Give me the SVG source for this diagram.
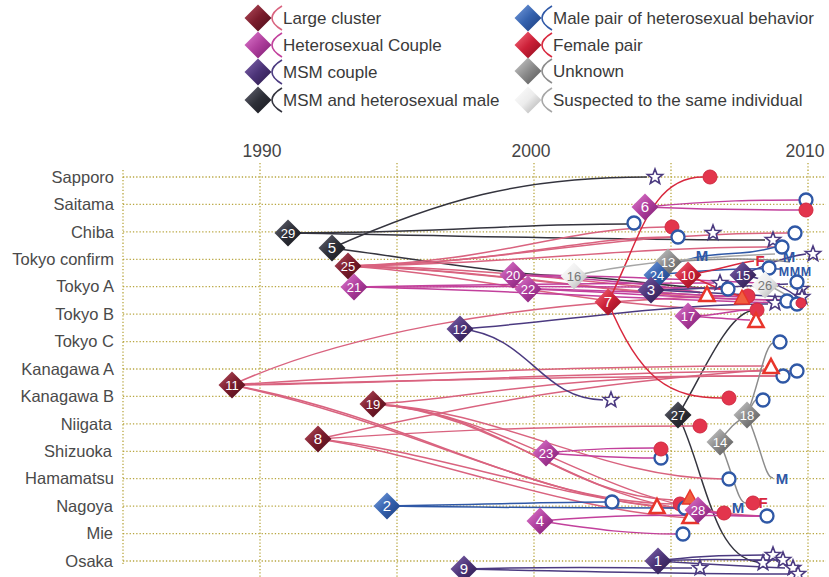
<svg xmlns="http://www.w3.org/2000/svg" xmlns:xlink="http://www.w3.org/1999/xlink" width="829" height="577" viewBox="0 0 829 577">
<style>
text{font-family:"Liberation Sans",Arial,sans-serif}
.grid{stroke:#b8a640;stroke-width:1.3;stroke-dasharray:1.3 2;fill:none}
.row{font-size:16.5px;fill:#4a4a4a;text-anchor:end}
.yr{font-size:17.5px;fill:#444;text-anchor:middle}
.leg{font-size:17px;fill:#3a3a3a}
.num{font-size:13px;fill:#fff;text-anchor:middle}
.numg{font-size:13px;fill:#777;text-anchor:middle}
.c path{fill:none;stroke-width:1.5}
.lc{stroke:#d9637f}
.hc{stroke:#c2409c}
.ms{stroke:#4b3a80}
.dk{stroke:#34343e}
.mp{stroke:#2f58a6}
.fp{stroke:#d8283e}
.uk{stroke:#8c8c8c}
.su{stroke:#a6a6a6}
.fLC{fill:url(#gLC)}.fHC{fill:url(#gHC)}.fMS{fill:url(#gMS)}.fDK{fill:url(#gDK)}
.fMP{fill:url(#gMP)}.fFP{fill:url(#gFP)}.fUK{fill:url(#gUK)}.fSU{fill:url(#gSU)}
.star{fill:#fff;stroke:#4b3a80;stroke-width:1.6}
.oc{fill:#fff;stroke:#2f58a6;stroke-width:2.3}
.rd{fill:#e3354c;stroke:#d02840;stroke-width:1}
.tri{fill:#fff;stroke:#e8352a;stroke-width:2.6;stroke-linejoin:miter}
.trif{fill:#f06040;stroke:#e8352a;stroke-width:1.5}
.M{font-size:15px;font-weight:bold;fill:#2f58a6;text-anchor:middle}
.Ms{font-size:12.5px;font-weight:bold;fill:#2f58a6;text-anchor:middle}
.F{font-size:15px;font-weight:bold;fill:#d8283e;text-anchor:middle}
</style>
<defs>
<linearGradient id="gLC" x1="0" y1="0" x2="1" y2="1"><stop offset="0" stop-color="#b85060"/><stop offset="0.5" stop-color="#7a1c2c"/><stop offset="1" stop-color="#4a0c18"/></linearGradient>
<linearGradient id="gHC" x1="0" y1="0" x2="1" y2="1"><stop offset="0" stop-color="#e07ed0"/><stop offset="0.5" stop-color="#b0409e"/><stop offset="1" stop-color="#7a1a70"/></linearGradient>
<linearGradient id="gMS" x1="0" y1="0" x2="1" y2="1"><stop offset="0" stop-color="#8468b0"/><stop offset="0.5" stop-color="#4c3478"/><stop offset="1" stop-color="#281846"/></linearGradient>
<linearGradient id="gDK" x1="0" y1="0" x2="1" y2="1"><stop offset="0" stop-color="#6a6a78"/><stop offset="0.5" stop-color="#2e3038"/><stop offset="1" stop-color="#15151c"/></linearGradient>
<linearGradient id="gMP" x1="0" y1="0" x2="1" y2="1"><stop offset="0" stop-color="#7aa0e0"/><stop offset="0.5" stop-color="#3562ae"/><stop offset="1" stop-color="#1a3a7a"/></linearGradient>
<linearGradient id="gFP" x1="0" y1="0" x2="1" y2="1"><stop offset="0" stop-color="#f87080"/><stop offset="0.5" stop-color="#cc2038"/><stop offset="1" stop-color="#8a0c1c"/></linearGradient>
<linearGradient id="gUK" x1="0" y1="0" x2="1" y2="1"><stop offset="0" stop-color="#d0d0d0"/><stop offset="0.5" stop-color="#8c8c8c"/><stop offset="1" stop-color="#505050"/></linearGradient>
<linearGradient id="gSU" x1="0" y1="0" x2="1" y2="1"><stop offset="0" stop-color="#ffffff"/><stop offset="0.5" stop-color="#ececec"/><stop offset="1" stop-color="#a8a8a8"/></linearGradient>
<path id="dia" d="M0,-13.5 L13.5,0 L0,13.5 L-13.5,0 Z"/>
<path id="star" d="M0,-8 L2,-2.75 L7.61,-2.47 L3.23,1.05 L4.7,6.47 L0,3.4 L-4.7,6.47 L-3.23,1.05 L-7.61,-2.47 L-2,-2.75 Z"/>
<path id="tri" d="M0,-8 L7.5,6 L-7.5,6 Z"/>
</defs>
<rect width="829" height="577" fill="#fff"/>

<g id="legend">
<g id="leg-lc"><path d="M282,6 Q262,18 282,30" class="lc" fill="none" stroke-width="1.6"/><use href="#dia" x="258" y="18" class="fLC"/><text class="leg" x="283" y="24">Large cluster</text></g>
<g id="leg-hc"><path d="M282,33 Q262,45 282,57" class="hc" fill="none" stroke-width="1.6"/><use href="#dia" x="258" y="45" class="fHC"/><text class="leg" x="283" y="51">Heterosexual Couple</text></g>
<g id="leg-ms"><path d="M282,60 Q262,72 282,84" class="ms" fill="none" stroke-width="1.6"/><use href="#dia" x="258" y="72" class="fMS"/><text class="leg" x="283" y="78">MSM couple</text></g>
<g id="leg-dk"><path d="M282,88 Q262,100 282,112" class="dk" fill="none" stroke-width="1.6"/><use href="#dia" x="258" y="100" class="fDK"/><text class="leg" x="283" y="106">MSM and heterosexual male</text></g>
<g id="leg-mp"><path d="M552,6 Q532,18 552,30" class="mp" fill="none" stroke-width="1.6"/><use href="#dia" x="528" y="18" class="fMP"/><text class="leg" x="553" y="24">Male pair of heterosexual behavior</text></g>
<g id="leg-fp"><path d="M552,33 Q532,45 552,57" class="fp" fill="none" stroke-width="1.6"/><use href="#dia" x="528" y="45" class="fFP"/><text class="leg" x="553" y="51">Female pair</text></g>
<g id="leg-uk"><path d="M552,59 Q532,71 552,83" class="uk" fill="none" stroke-width="1.6"/><use href="#dia" x="528" y="71" class="fUK"/><text class="leg" x="553" y="77">Unknown</text></g>
<g id="leg-su"><path d="M552,88 Q532,100 552,112" class="su" fill="none" stroke-width="1.6"/><use href="#dia" x="528" y="100" class="fSU"/><text class="leg" x="553" y="106">Suspected to the same individual</text></g>
</g>

<g id="axes">
<text class="yr" x="262" y="157">1990</text>
<text class="yr" x="531" y="157">2000</text>
<text class="yr" x="805" y="157">2010</text>
<path class="grid" d="M123,170 V566 M260,163 V577 M397,163 V577 M534,163 V577 M671,163 V577 M808,163 V577"/>
<path class="grid" d="M123,177 H826 M123,204.4 H826 M123,231.9 H826 M123,259.3 H826 M123,286.7 H826 M123,314.1 H826 M123,341.6 H826 M123,369 H826 M123,396.4 H826 M123,423.9 H826 M123,451.3 H826 M123,478.7 H826 M123,506.2 H826 M123,533.6 H826 M123,561 H826"/>
<text class="row" x="114" y="182.5">Sapporo</text>
<text class="row" x="114" y="210">Saitama</text>
<text class="row" x="114" y="237.5">Chiba</text>
<text class="row" x="114" y="265">Tokyo confirm</text>
<text class="row" x="114" y="292.3">Tokyo A</text>
<text class="row" x="114" y="319.7">Tokyo B</text>
<text class="row" x="114" y="347.2">Tokyo C</text>
<text class="row" x="114" y="374.6">Kanagawa A</text>
<text class="row" x="114" y="402">Kanagawa B</text>
<text class="row" x="112" y="429.5">Niigata</text>
<text class="row" x="112" y="456.9">Shizuoka</text>
<text class="row" x="114" y="484.3">Hamamatsu</text>
<text class="row" x="113" y="511.8">Nagoya</text>
<text class="row" x="113" y="539.2">Mie</text>
<text class="row" x="113" y="566.6">Osaka</text>
</g>

<g id="connectors" class="c">
<path class="dk" d="M288,233 C450,233 500,224 627,224"/>
<path class="dk" d="M288,233 C480,236 600,240 765,240"/>
<path class="dk" d="M332,248 C440,200 520,177 647,177"/>
<path class="dk" d="M332,248 C450,264 520,276 574,276 C630,280 680,288 722,289"/>
<path class="dk" d="M678,415 C700,380 725,318 750,311"/>
<path class="dk" d="M678,415 C705,470 712,556 757,562"/>

<path class="lc" d="M348,266 C500,262 560,228 665,227"/>
<path class="lc" d="M348,266 C500,264 580,237 671,237"/>
<path class="lc" d="M348,266 C520,262 600,233 789,233"/>
<path class="lc" d="M348,266 C520,264 620,247 775,247"/>
<path class="lc" d="M348,266 C500,268 600,284 700,292"/>
<path class="lc" d="M348,266 C500,270 620,296 741,296"/>
<path class="lc" d="M348,266 C520,272 640,300 780,300"/>
<path class="lc" d="M348,266 C480,275 600,310 750,310"/>
<path class="lc" d="M232,385 C330,340 500,300 745,296"/>
<path class="lc" d="M232,385 C420,372 600,366 764,366"/>
<path class="lc" d="M232,385 C420,380 620,376 776,376"/>
<path class="lc" d="M232,385 C420,383 620,371 790,371"/>
<path class="lc" d="M232,385 C420,420 520,500 672,504"/>
<path class="lc" d="M232,385 C420,425 540,505 700,510"/>
<path class="lc" d="M373,404 C470,400 540,374 776,376"/>
<path class="lc" d="M373,404 C500,410 560,495 673,500"/>
<path class="lc" d="M373,404 C500,412 580,505 712,512"/>
<path class="lc" d="M373,404 C520,414 600,510 760,516"/>
<path class="lc" d="M373,404 C500,410 600,478 722,479"/>
<path class="lc" d="M318,439 C450,430 550,426 693,426"/>
<path class="lc" d="M318,439 C450,410 560,385 764,370"/>
<path class="lc" d="M318,439 C430,450 560,500 680,508"/>
<path class="lc" d="M318,439 C430,455 560,510 690,518"/>

<path class="hc" d="M354,287 C500,287 600,285 720,289"/>
<path class="hc" d="M354,287 C520,290 640,300 790,303"/>
<path class="hc" d="M354,287 C520,284 650,283 714,283"/>
<path class="hc" d="M513,275 C600,275 700,280 780,284"/>
<path class="hc" d="M513,275 C600,278 680,288 700,293"/>
<path class="hc" d="M528,289 C620,292 700,300 790,300"/>
<path class="hc" d="M528,289 C620,290 720,296 742,297"/>
<path class="hc" d="M645,207 C720,200 760,200 799,200"/>
<path class="hc" d="M645,207 C720,210 760,210 799,210"/>
<path class="hc" d="M688,316 C720,316 730,310 750,310"/>
<path class="hc" d="M688,316 C720,318 740,320 750,320"/>
<path class="hc" d="M546,453 C600,448 620,448 654,448"/>
<path class="hc" d="M546,453 C600,457 620,458 654,458"/>
<path class="hc" d="M540,521 C600,530 630,534 676,534"/>
<path class="hc" d="M540,521 C640,512 700,516 760,516"/>
<path class="hc" d="M698,510 L717,513"/>
<path class="hc" d="M698,510 C730,516 740,516 760,516"/>

<path class="ms" d="M460,329 C560,322 650,305 768,304"/>
<path class="ms" d="M460,329 C530,335 540,399 603,400"/>
<path class="ms" d="M651,290 C700,292 760,296 792,297"/>
<path class="ms" d="M651,290 C700,290 750,285 788,284"/>
<path class="ms" d="M743,275 C770,262 790,256 806,254"/>
<path class="ms" d="M743,275 C770,280 790,290 798,298"/>
<path class="ms" d="M464,569 C560,566 620,568 692,568"/>
<path class="ms" d="M464,569 C600,572 700,574 790,574"/>
<path class="ms" d="M658,561 C700,555 740,555 765,555"/>
<path class="ms" d="M658,561 C700,558 740,560 775,560"/>
<path class="ms" d="M658,561 C700,564 740,566 785,568"/>

<path class="mp" d="M387,506 C500,504 560,502 605,502"/>
<path class="mp" d="M387,506 C520,508 600,508 678,508"/>
<path class="mp" d="M657,275 C680,258 700,255 740,253 C760,252 770,248 776,247"/>
<path class="mp" d="M657,275 C700,270 750,268 780,269"/>

<path class="fp" d="M608,302 C640,240 650,177 703,177"/>
<path class="fp" d="M608,302 C640,380 670,398 722,398"/>
<path class="fp" d="M688,275 C720,270 740,262 754,261"/>
<path class="fp" d="M688,275 C710,285 730,294 741,296"/>

<path class="uk" d="M747,415 C760,380 765,345 773,343"/>
<path class="uk" d="M747,415 C762,450 765,478 773,478"/>
<path class="uk" d="M747,415 C752,405 754,400 756,400"/>
<path class="uk" d="M720,442 C730,425 740,420 747,415"/>
<path class="uk" d="M720,442 C735,480 738,503 746,503"/>
<path class="uk" d="M668,262 C720,258 760,258 790,262"/>
<path class="su" d="M574,276 C620,265 680,258 775,254"/>
<path class="su" d="M767,285 C780,290 785,295 790,297"/>
</g>

<g id="endpoints">
<use href="#star" class="star" x="655" y="177"/>
<use href="#star" class="star" x="713" y="233"/>
<use href="#star" class="star" x="773" y="240"/>
<use href="#star" class="star" x="813" y="254"/>
<use href="#star" class="star" x="720" y="283"/>
<use href="#star" class="star" x="801" y="289"/>
<use href="#star" class="star" x="775" y="303"/>
<use href="#star" class="star" x="802" y="297"/>
<use href="#star" class="star" x="611" y="400"/>
<use href="#star" class="star" x="700" y="568"/>
<use href="#star" class="star" x="763" y="563"/>
<use href="#star" class="star" x="773" y="555"/>
<use href="#star" class="star" x="783" y="560"/>
<use href="#star" class="star" x="793" y="568"/>
<use href="#star" class="star" x="798" y="574"/>

<circle class="oc" cx="806" cy="200" r="6.5"/>
<circle class="rd" cx="806" cy="210" r="7"/>
<circle class="rd" cx="710" cy="177" r="7"/>
<circle class="oc" cx="634" cy="223" r="6.5"/>
<circle class="rd" cx="672" cy="227" r="7"/>
<circle class="oc" cx="678" cy="237" r="6.5"/>
<circle class="oc" cx="795" cy="233" r="6.5"/>
<circle class="oc" cx="782" cy="247" r="6.5"/>
<circle class="oc" cx="769" cy="268" r="6.5"/>
<circle class="oc" cx="728" cy="289" r="6.5"/>
<circle class="oc" cx="797" cy="282" r="6.5"/>
<circle class="oc" cx="787" cy="301" r="6.5"/>
<circle class="oc" cx="797" cy="304" r="6.5"/>
<circle class="rd" cx="748" cy="296" r="7"/>
<circle class="rd" cx="801" cy="303" r="5"/>
<circle class="rd" cx="757" cy="310" r="7"/>
<circle class="oc" cx="780" cy="342" r="6.5"/>
<circle class="oc" cx="783" cy="376" r="6.5"/>
<circle class="oc" cx="797" cy="371" r="6.5"/>
<circle class="oc" cx="763" cy="400" r="6.5"/>
<circle class="rd" cx="729" cy="398" r="7"/>
<circle class="rd" cx="700" cy="426" r="7"/>
<circle class="oc" cx="661" cy="458" r="6.5"/>
<circle class="rd" cx="661" cy="449" r="7"/>
<circle class="oc" cx="729" cy="479" r="6.5"/>
<circle class="oc" cx="612" cy="502" r="6.5"/>
<circle class="rd" cx="680" cy="504" r="7"/>
<circle class="oc" cx="685" cy="508" r="6.5"/>
<circle class="rd" cx="753" cy="503" r="7"/>
<circle class="rd" cx="724" cy="513" r="7"/>
<circle class="oc" cx="767" cy="516" r="6.5"/>
<circle class="oc" cx="683" cy="534" r="6.5"/>

<use href="#tri" class="tri" x="707" y="295"/>
<use href="#tri" class="trif" x="742" y="298"/>
<use href="#tri" class="tri" x="756" y="321"/>
<use href="#tri" class="tri" x="771" y="367"/>
<use href="#tri" class="tri" x="657" y="507"/>
<use href="#tri" class="trif" x="690" y="498"/>
<use href="#tri" class="tri" x="690" y="517"/>

<text class="M" x="702" y="261">M</text>
<text class="M" x="789" y="262">M</text>
<text class="Ms" x="784" y="276">M</text>
<text class="Ms" x="795" y="276">M</text>
<text class="Ms" x="806" y="276">M</text>
<text class="M" x="782" y="484">M</text>
<text class="M" x="738" y="513">M</text>
<text class="F" x="760" y="266">F</text>
<text class="F" x="763" y="508">F</text>
</g>

<g id="nodes">
<g id="n29"><use href="#dia" x="288" y="233" class="fDK"/><text class="num" x="288" y="237.5">29</text></g>
<g id="n5"><use href="#dia" x="332" y="248" class="fDK"/><text class="num" x="332" y="252.5" style="font-size:15px">5</text></g>
<g id="n25"><use href="#dia" x="348" y="266" class="fLC"/><text class="num" x="348" y="270.5">25</text></g>
<g id="n21"><use href="#dia" x="354" y="287" class="fHC"/><text class="num" x="354" y="291.5">21</text></g>
<g id="n20"><use href="#dia" x="513" y="275" class="fHC"/><text class="num" x="513" y="279.5">20</text></g>
<g id="n22"><use href="#dia" x="528" y="289" class="fHC"/><text class="num" x="528" y="293.5">22</text></g>
<g id="n12"><use href="#dia" x="460" y="329" class="fMS"/><text class="num" x="460" y="333.5">12</text></g>
<g id="n16"><use href="#dia" x="574" y="276" class="fSU"/><text class="numg" x="574" y="280.5">16</text></g>
<g id="n7"><use href="#dia" x="608" y="302" class="fFP"/><text class="num" x="608" y="307" style="font-size:15px">7</text></g>
<g id="n6"><use href="#dia" x="645" y="207" class="fHC"/><text class="num" x="645" y="212" style="font-size:15px">6</text></g>
<g id="n13"><use href="#dia" x="668" y="262" class="fUK"/><text class="num" x="668" y="266.5">13</text></g>
<g id="n24"><use href="#dia" x="657" y="275" class="fMP"/><text class="num" x="657" y="279.5">24</text></g>
<g id="n3"><use href="#dia" x="651" y="290" class="fMS"/><text class="num" x="651" y="295" style="font-size:15px">3</text></g>
<g id="n10"><use href="#dia" x="688" y="275" class="fFP"/><text class="num" x="688" y="279.5">10</text></g>
<g id="n17"><use href="#dia" x="688" y="316" class="fHC"/><text class="num" x="688" y="320.5">17</text></g>
<g id="n15"><use href="#dia" x="743" y="275" class="fMS"/><text class="num" x="743" y="279.5">15</text></g>
<g id="n26"><use href="#dia" x="765" y="285" class="fSU"/><text class="numg" x="765" y="289.5">26</text></g>
<g id="n11"><use href="#dia" x="232" y="385" class="fLC"/><text class="num" x="232" y="389.5">11</text></g>
<g id="n19"><use href="#dia" x="373" y="404" class="fLC"/><text class="num" x="373" y="408.5">19</text></g>
<g id="n8"><use href="#dia" x="318" y="439" class="fLC"/><text class="num" x="318" y="444" style="font-size:15px">8</text></g>
<g id="n23"><use href="#dia" x="546" y="453" class="fHC"/><text class="num" x="546" y="457.5">23</text></g>
<g id="n2"><use href="#dia" x="387" y="506" class="fMP"/><text class="num" x="387" y="511" style="font-size:15px">2</text></g>
<g id="n4"><use href="#dia" x="540" y="521" class="fHC"/><text class="num" x="540" y="526" style="font-size:15px">4</text></g>
<g id="n9"><use href="#dia" x="464" y="569" class="fMS"/><text class="num" x="464" y="574" style="font-size:15px">9</text></g>
<g id="n27"><use href="#dia" x="678" y="415" class="fDK"/><text class="num" x="678" y="419.5">27</text></g>
<g id="n18"><use href="#dia" x="747" y="415" class="fUK"/><text class="num" x="747" y="419.5">18</text></g>
<g id="n14"><use href="#dia" x="720" y="442" class="fUK"/><text class="num" x="720" y="446.5">14</text></g>
<g id="n28"><use href="#dia" x="698" y="510" class="fHC"/><text class="num" x="698" y="514.5">28</text></g>
<g id="n1"><use href="#dia" x="658" y="561" class="fMS"/><text class="num" x="658" y="566" style="font-size:15px">1</text></g>
</g>
</svg>
